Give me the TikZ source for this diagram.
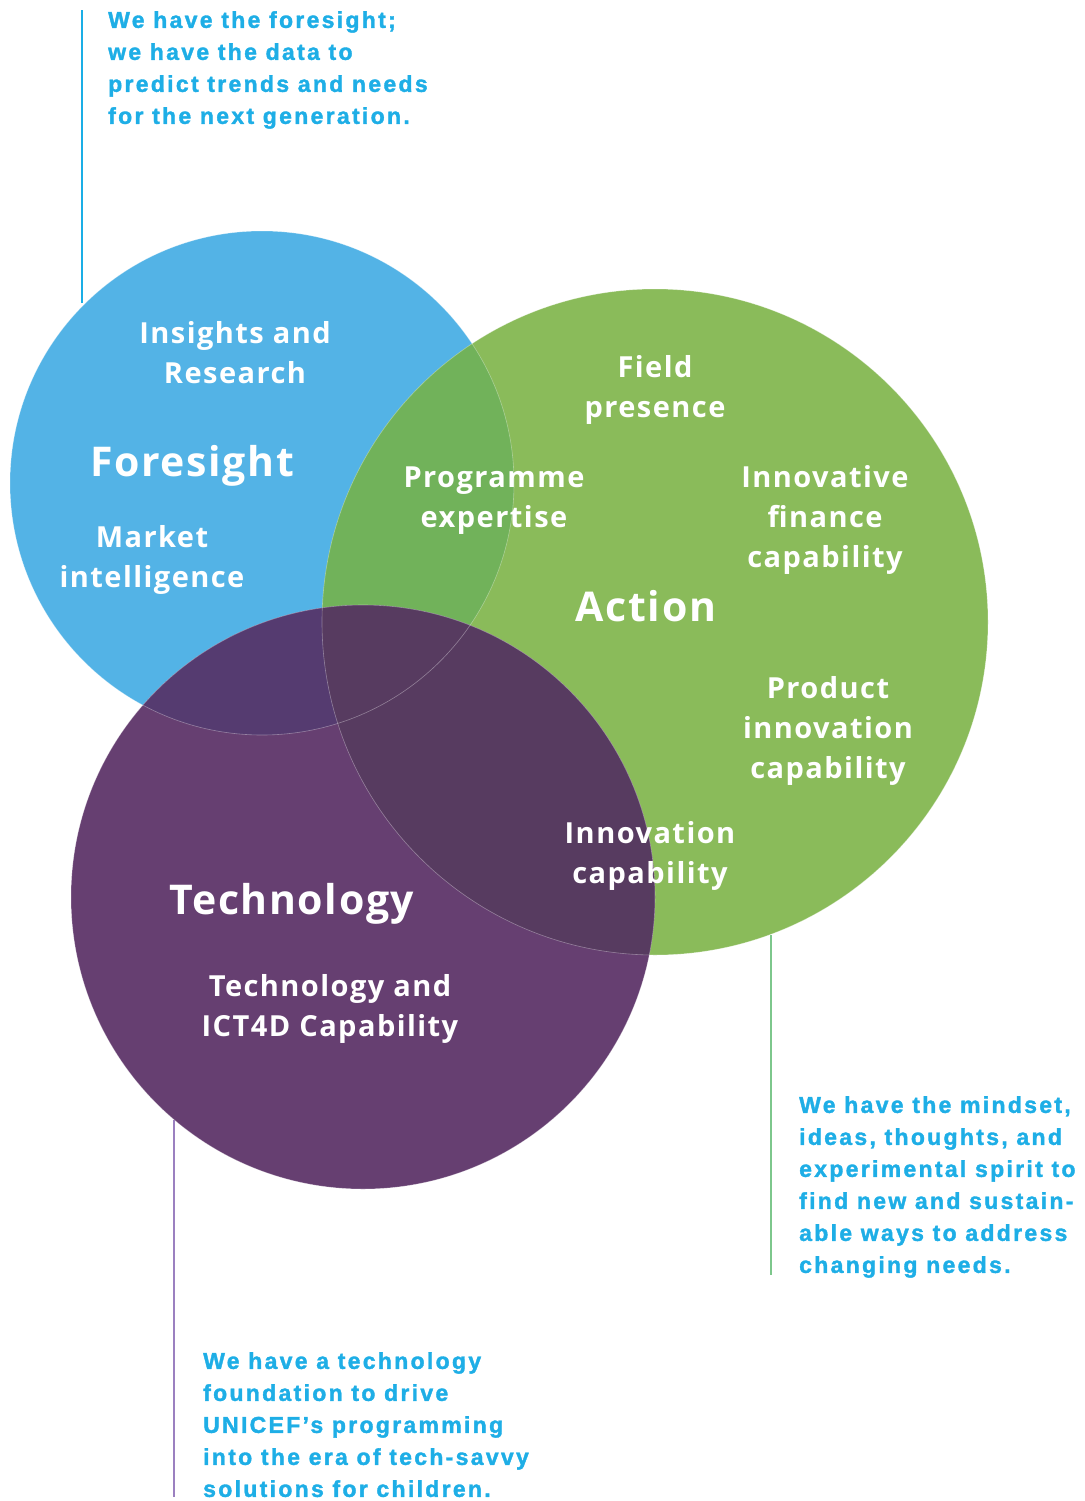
\documentclass[tikz,border=0pt]{standalone}
\usepackage{fontspec}
\setmainfont{Open Sans}
\newfontfamily\labfont[LetterSpace=5]{Open Sans}
\newfontfamily\titfont[LetterSpace=4]{Open Sans}
\newfontfamily\callfont[LetterSpace=10,BoldFeatures={FakeBold=1.6}]{Liberation Sans}
\definecolor{cblue}{HTML}{53B3E6}
\definecolor{cgreen}{HTML}{8ABB5A}
\definecolor{cpurple}{HTML}{663F71}
\definecolor{cbg}{HTML}{71B25A}
\definecolor{cbp}{HTML}{553B70}
\definecolor{cgp}{HTML}{573B60}
\definecolor{ctxt}{HTML}{1EAEE6}
\definecolor{lblue}{HTML}{1AAEE6}
\definecolor{lgreen}{HTML}{7DC78C}
\definecolor{lpurple}{HTML}{9B80C0}
\tikzset{
  venn/.style={circle, inner sep=0pt, outer sep=0pt},
  lab/.style={text=white, align=center, inner sep=0pt,
    font=\labfont\bfseries\fontsize{29pt}{40pt}\selectfont},
  title/.style={text=white, inner sep=0pt,
    font=\titfont\bfseries\fontsize{41pt}{48pt}\selectfont},
  callout/.style={text=ctxt, align=left, inner sep=0pt, anchor=north west,
    font=\callfont\bfseries\fontsize{23pt}{32pt}\selectfont},
  leader/.style={line width=2.2pt},
  hair/.style={draw=white, draw opacity=0.35, line width=0.6pt}
}
\begin{document}
\begin{tikzpicture}[x=1pt,y=-1pt]
\useasboundingbox (0,0) rectangle (1084,1501);
% circles
\node[venn, fill=cblue, minimum size=504pt] (fore) at (262,483) {};
\node[venn, fill=cgreen, minimum size=666pt] (act) at (655,622) {};
\node[venn, fill=cpurple, minimum size=584pt] (tech) at (363,897) {};
% overlaps
\begin{scope}
  \clip (262,483) circle (252pt);
  \fill[cbg] (655,622) circle (333pt);
\end{scope}
\begin{scope}
  \clip (262,483) circle (252pt);
  \fill[cbp] (363,897) circle (292pt);
\end{scope}
\begin{scope}
  \clip (655,622) circle (333pt);
  \fill[cgp] (363,897) circle (292pt);
\end{scope}
% hairlines
\draw[hair] (262,483) circle (252pt);
\draw[hair] (655,622) circle (333pt);
\draw[hair] (363,897) circle (292pt);
% leader lines
\coordinate (fend) at (82,10);
\coordinate (fstart) at (82,303);
\coordinate (aend) at (771,1275);
\coordinate (astart) at (771,935);
\coordinate (tend) at (174,1497);
\coordinate (tstart) at (174,1120);
\draw[leader, lblue] (fstart) -- (fend);
\draw[leader, lgreen] (astart) -- (aend);
\draw[leader, lpurple] (tstart) -- (tend);
% labels
\node[lab] (ins) at (235,353) {Insights and\\Research};
\node[title] (ftitle) at (192,466) {Foresight};
\node[lab] (mkt) at (152,560) {Market\\intelligence};
\node[lab] (field) at (655,390) {Field\\presence};
\node[lab] (prog) at (494,501) {Programme\\expertise};
\node[lab] (fin) at (825,520) {Innovative\\finance\\capability};
\node[title] (atitle) at (646,606) {Action};
\node[lab] (prod) at (828,731) {Product\\innovation\\capability};
\node[lab] (innov) at (650,856) {Innovation\\capability};
\node[title] (ttitle) at (292,904) {Technology};
\node[lab] (ict) at (330,1009) {Technology and\\ICT4D Capability};
% callouts
\node[callout] (cf) at (108,11) {We have the foresight;\\we have the data to\\predict trends and needs\\for the next generation.};
\node[callout] (ca) at (799,1096) {We have the mindset,\\ideas, thoughts, and\\experimental spirit to\\find new and sustain-\\able ways to address\\changing needs.};
\node[callout] (ct) at (203,1352) {We have a technology\\foundation to drive\\UNICEF’s programming\\into the era of tech-savvy\\solutions for children.};
\end{tikzpicture}
\end{document}
